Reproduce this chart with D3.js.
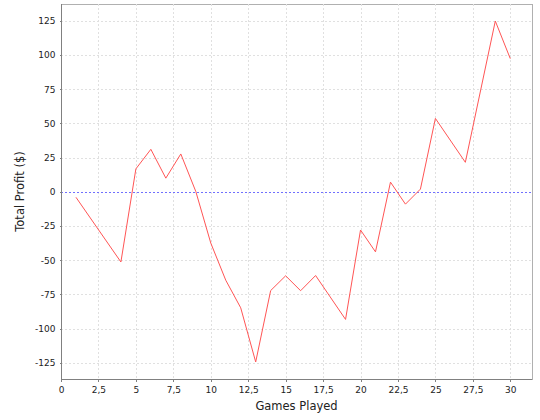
<!DOCTYPE html>
<html>
<head>
<meta charset="utf-8">
<script src="https://cdn.jsdelivr.net/npm/d3@7"></script>
<style>
  html, body { margin: 0; padding: 0; background: #fff; }
  svg { display: block; }
  text { font-family: "DejaVu Sans", sans-serif; }
</style>
</head>
<body>
<script>
// ---- Data ----
const games = [1, 4, 5, 6, 7, 8, 9, 10, 11, 12, 13, 14, 15, 16, 17, 19, 20, 21, 22, 23, 24, 25, 27, 29, 30];
const profit = [-4, -51.3, 16.8, 31.1, 10, 27.7, 0.3, -37.4, -64.6, -84.8, -124.4, -72.2, -61.4, -72.3, -61.2, -93.3, -27.9, -43.9, 7.1, -9, 2, 53.7, 21.6, 124.9, 97.4];
const xTicks = [0, 2.5, 5, 7.5, 10, 12.5, 15, 17.5, 20, 22.5, 25, 27.5, 30];
const yTicks = [-125, -100, -75, -50, -25, 0, 25, 50, 75, 100, 125];
const xTitle = "Games Played";
const yTitle = "Total Profit ($)";

const W = 540, H = 420;
const pL = 61, pR = 532, pT = 4, pB = 379;

const svg = d3.select("body").append("svg").attr("width", W).attr("height", H);

const xMax = d3.max(games), xMin = d3.min(games);
const x = d3.scaleLinear().domain([0, xMax + (xMax - xMin) * 0.05]).range([pL, pR]);
const yMin = d3.min(profit), yMaxV = d3.max(profit);
const yPad = (yMaxV - yMin) * 0.05;
const y = d3.scaleLinear().domain([yMin - yPad, yMaxV + yPad]).range([pB, pT]);

const fmt = v => String(v).replace(".", ",");

// plot background
svg.append("rect").attr("x", pL + 0.5).attr("y", pT + 0.5).attr("width", pR - pL).attr("height", pB - pT)
  .attr("fill", "#fff").attr("stroke", "#b0b0b0").attr("stroke-width", 1)
  .attr("shape-rendering", "crispEdges");

// gridlines
const grid = svg.append("g").attr("shape-rendering", "crispEdges")
  .attr("stroke", "#e0e0e0").attr("stroke-dasharray", "2,2").attr("stroke-width", 1);
grid.selectAll(".gx").data(xTicks.filter(d => d !== 0)).join("line")
  .attr("x1", d => Math.round(x(d)) + 0.5).attr("x2", d => Math.round(x(d)) + 0.5)
  .attr("y1", pT).attr("y2", pB);
grid.selectAll(".gy").data(yTicks.filter(d => d !== 0)).join("line")
  .attr("y1", d => Math.round(y(d)) + 0.5).attr("y2", d => Math.round(y(d)) + 0.5)
  .attr("x1", pL).attr("x2", pR);

// zero line
svg.append("line").attr("x1", pL).attr("x2", pR)
  .attr("y1", Math.round(y(0)) + 0.5).attr("y2", Math.round(y(0)) + 0.5)
  .attr("stroke", "#7070ff").attr("stroke-dasharray", "2,2").attr("shape-rendering", "crispEdges");

// series line
const line = d3.line().x((d, i) => x(games[i])).y(d => y(d));
svg.append("path").datum(profit).attr("d", line)
  .attr("fill", "none").attr("stroke", "#ff5555").attr("stroke-width", 1);

// axes
const xAxis = d3.axisBottom(x).tickValues(xTicks).tickFormat(fmt).tickSize(2).tickPadding(5);
const yAxis = d3.axisLeft(y).tickValues(yTicks).tickFormat(fmt).tickSize(2).tickPadding(4);

const gx = svg.append("g").attr("transform", `translate(0,${pB + 0.5})`).call(xAxis);
const gy = svg.append("g").attr("transform", `translate(${pL + 0.5},0)`).call(yAxis);
[gx, gy].forEach(g => {
  g.select(".domain").attr("stroke", "#808080").attr("shape-rendering", "crispEdges");
  g.selectAll(".tick line").attr("stroke", "#808080").attr("shape-rendering", "crispEdges");
  g.selectAll("text").attr("fill", "#222").attr("font-size", "9px").attr("font-family", "DejaVu Sans, sans-serif");
});
gx.select(".domain").attr("d", `M${pL},0H${pR}`);
gy.select(".domain").attr("d", `M0,${pT}V${pB}`);

// axis titles
svg.append("text").attr("x", (pL + pR) / 2).attr("y", 410)
  .attr("text-anchor", "middle").attr("font-size", "11.5px").attr("fill", "#222").text(xTitle);
svg.append("text").attr("transform", `translate(24,${(pT + pB) / 2}) rotate(-90)`)
  .attr("text-anchor", "middle").attr("font-size", "11.5px").attr("fill", "#222").text(yTitle);
</script>
</body>
</html>
